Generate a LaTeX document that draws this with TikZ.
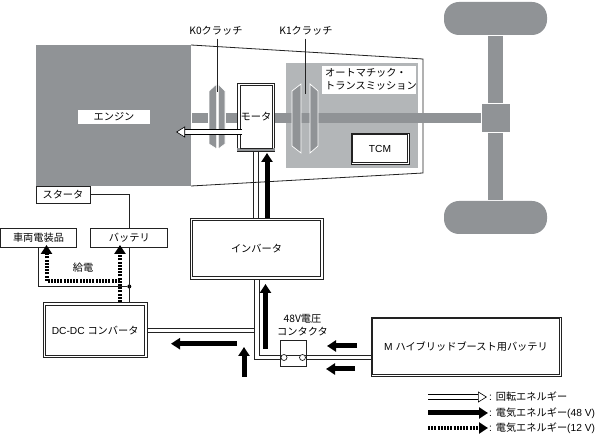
\documentclass[tikz,border=0pt]{standalone}
\usepackage{fontspec}
\setmainfont{Liberation Sans}
\newfontfamily\jp{Noto Sans CJK JP}
\usetikzlibrary{positioning,arrows.meta}
\definecolor{partgray}{HTML}{909396}
\definecolor{casegray}{HTML}{B3B6B8}
\definecolor{linegray}{HTML}{222222}
\newcommand{\lblsize}{\fontsize{10.2}{12}\selectfont}
\tikzset{
  lbl/.style={inner sep=0pt,font=\lblsize\jp},
  thinbox/.style={draw=linegray,line width=.8pt,fill=white,inner sep=0pt,font=\lblsize\jp},
  wire/.style={draw=linegray,line width=.8pt},
  rotarrow/.style={draw=black,line width=.6pt,double=white,double distance=4pt,-{Triangle[length=9pt,width=11pt,fill=white,line width=.6pt]}},
  hvarrow/.style={line width=5pt,-{Triangle[length=9pt,width=11pt]}},
  lvarrow/.style={line width=4pt,dash pattern=on 2pt off 1.2pt,-{Triangle[length=9pt,width=11pt]}},
  partfill/.style={fill=partgray},
  clutch/.style={fill=partgray,draw=white,line width=.7pt},
}
\begin{document}
\begin{tikzpicture}[x=1pt,y=-1pt]
\useasboundingbox (0,0) rectangle (598,435);

% engine and housing
\fill[partfill] (36,45) rectangle (191,186);
\draw[wire] (191,45) -- (423,59) -- (423,173) -- (191,186);
\fill[casegray] (286,63) rectangle (418,168);

% shaft
\fill[partfill] (192,113) rectangle (208,123);
\fill[partfill] (226,113) rectangle (481,123);

% K0
\fill[clutch] (209,91) -- (216.7,84) -- (216.7,149) -- (209,144) -- cycle;
\fill[clutch] (225,91) -- (218.3,84) -- (218.3,149) -- (225,144) -- cycle;
% K1
\filldraw[clutch] (292,91) -- (301,84) -- (301,153) -- (292,146) -- cycle;
\filldraw[clutch] (318,91) -- (310,84) -- (310,153) -- (318,146) -- cycle;

% axle and wheels
\fill[partfill] (488,36) rectangle (503,103);
\fill[partfill] (488,133) rectangle (503,200);
\fill[partfill] (482,104) rectangle (510,132);
\fill[partfill,rounded corners=15pt] (444,2) rectangle (547,35);
\fill[partfill,rounded corners=15pt] (444,201) rectangle (547,234);

% labels of the clutches
\node[lbl] (kzero) at (216,31) {K0クラッチ};
\node[lbl] (kone) at (306,31) {K1クラッチ};
\coordinate (kzeroE) at (217.5,92);
\coordinate (koneE) at (305,94);
\draw[wire] (kzero.south -| kzeroE) ++(0,3) -- (kzeroE);
\draw[wire] (kone.south -| koneE) ++(0,3) -- (koneE);

\node[fill=white,inner sep=0pt,minimum width=72pt,minimum height=14pt,lbl] (engine) at (114,117) {エンジン};
\node[fill=white,inner sep=0pt,minimum width=94pt,minimum height=28pt] (atbox) at (369,80) {};
\node[lbl,anchor=west] (atone) at (325,73) {オートマチック・};
\node[lbl,anchor=west] (attwo) at (325,86) {トランスミッション};
\node[thinbox,minimum width=58pt,minimum height=31pt,font=\lblsize\rmfamily] (tcm) at (380,148.5) {TCM};

% boxes
\node[thinbox,minimum width=37pt,minimum height=68pt] (motor) at (256,117) {モータ};
\node[thinbox,minimum width=133pt,minimum height=61pt] (inverter) at (256.5,248.5) {インバータ};
\node[thinbox,minimum width=104pt,minimum height=55pt] (dcdc) at (95.2,330.2) {\rmfamily DC-DC {\jp コンバータ}};
\node[thinbox,minimum width=190pt,minimum height=59pt] (mbat) at (466,346.5) {\rmfamily M {\jp ハイブリッドブースト用バッテリ}};
\node[thinbox,minimum width=54pt,minimum height=17pt] (starter) at (63,194.5) {スタータ};
\node[thinbox,minimum width=77pt,minimum height=19pt] (battery) at (129.3,237.5) {バッテリ};
\node[thinbox,minimum width=76pt,minimum height=19pt] (equip) at (38.5,237.5) {車両電装品};

% bottom edge of the motor, then inner frames
\fill[partfill] ([yshift=.4pt]motor.south west) rectangle ([yshift=3pt]motor.south east);
\foreach \b/\g in {motor/3,inverter/3,dcdc/3,mbat/2,tcm/2}
  \draw[wire] ([shift={(\g pt,\g pt)}]\b.south west) rectangle ([shift={(-\g pt,-\g pt)}]\b.north east);

% 12 V wiring
\node[circle,fill=black,inner sep=0pt,minimum size=4pt] (joint) at (129.3,286.5) {};
\draw[wire] (starter.east) -| (battery.north);
\draw[wire] (battery.south) -- (battery.south |- dcdc.north);
\draw[wire] (equip.south) |- (joint);

% 48 V wiring
\node[thinbox,minimum width=26pt,minimum height=26pt] (contactor) at (293,353) {};
\coordinate (swup) at (293,355);
\coordinate (swlow) at (293,359);
\draw[wire] ([xshift=-2.5pt]motor.south) -- ([xshift=-2.5pt]motor.south |- inverter.north);
\draw[wire] ([xshift=2.5pt]motor.south) -- ([xshift=2.5pt]motor.south |- inverter.north);
\draw[wire] ([xshift=-2.5pt]inverter.south) |- (swlow -| contactor.west);
\draw[wire] ([xshift=2.5pt]inverter.south) |- (swup -| contactor.west);
\draw[wire] ([yshift=2.2pt]dcdc.east) -- ([yshift=2.2pt,xshift=-2.5pt]dcdc.east -| inverter.south);
\draw[wire] ([yshift=-2.2pt]dcdc.east) -- ([yshift=-2.2pt,xshift=-2.5pt]dcdc.east -| inverter.south);
\draw[wire] (swup -| contactor.west) -- (swup -| mbat.west);
\draw[wire] (swlow -| contactor.east) -- (swlow -| mbat.west);
\node[circle,draw=linegray,line width=.7pt,fill=white,inner sep=0pt,minimum size=6pt] (swl) at (284,357.5) {};
\node[circle,draw=linegray,line width=.7pt,fill=white,inner sep=0pt,minimum size=6pt] (swr) at (302.5,357.5) {};
\node[lbl] (volt) at (302.5,319) {48V電圧};
\node[lbl] (contlbl) at (302.5,332) {コンタクタ};
\node[lbl] (feed) at (83,268) {給電};

% energy flow
\coordinate (rotS) at (242,132);
\coordinate (rotE) at (176,132);
\draw[rotarrow] (rotS) -- (rotE);
\coordinate (aS) at (267,218);
\coordinate (aE) at (267,153);
\draw[hvarrow] (aS) -- (aE);
\coordinate (bS) at (265.5,349);
\coordinate (bE) at (265.5,284);
\draw[hvarrow] (bS) -- (bE);
\coordinate (cS) at (237,343.7);
\coordinate (cE) at (171,343.7);
\draw[hvarrow] (cS) -- (cE);
\coordinate (dS) at (244,377);
\coordinate (dE) at (244,347);
\draw[hvarrow] (dS) -- (dE);
\coordinate (eS) at (357,346);
\coordinate (eE) at (327,346);
\draw[hvarrow] (eS) -- (eE);
\coordinate (fS) at (355,369);
\coordinate (fE) at (326,369);
\draw[hvarrow] (fS) -- (fE);

\coordinate (gS) at (120,302);
\coordinate (gE) at (120,245);
\draw[lvarrow] (gS) -- (gE);
\coordinate (hS) at (120,281);
\coordinate (hE) at (46.5,245);
\draw[lvarrow] (hS) -| (hE);

% legend
\node[lbl,anchor=west,font=\lblsize\rmfamily] (rotlbl) at (489,397) {: {\jp 回転エネルギー}};
\node[lbl,anchor=west,font=\lblsize\rmfamily] (hvlbl) at (489,413) {: {\jp 電気エネルギー}(48 V)};
\node[lbl,anchor=west,font=\lblsize\rmfamily] (lvlbl) at (489,428) {: {\jp 電気エネルギー}(12 V)};
\coordinate (rotG) at (428,397);
\coordinate (hvG) at (428,413);
\coordinate (lvG) at (428,428);
\draw[rotarrow,shorten >=2pt] (rotG) -- (rotlbl.west);
\draw[hvarrow,shorten >=1pt] (hvG) -- (hvlbl.west);
\draw[lvarrow,shorten >=1pt] (lvG) -- (lvlbl.west);

\end{tikzpicture}
\end{document}
